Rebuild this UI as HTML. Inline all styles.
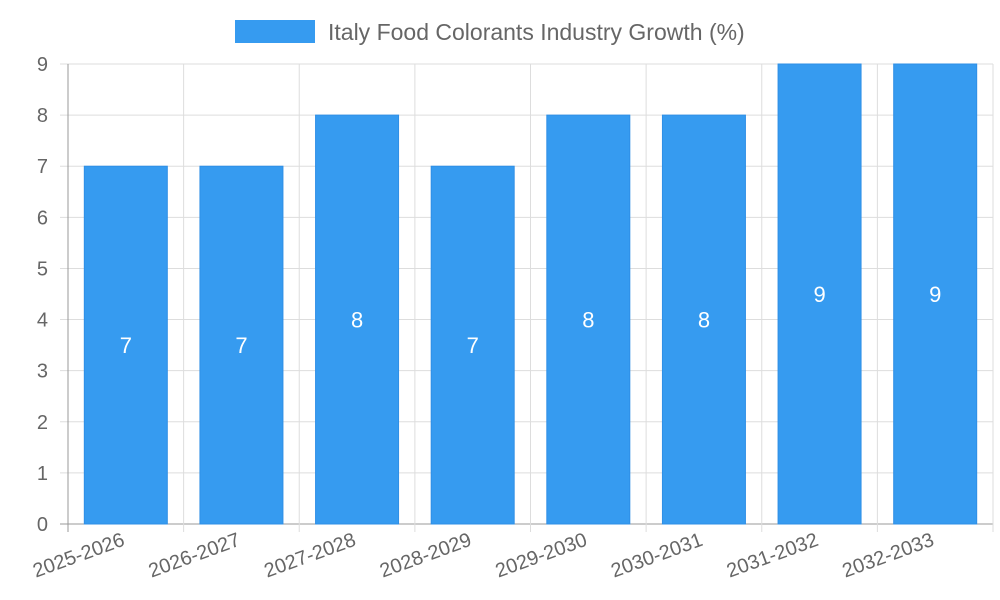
<!DOCTYPE html>
<html><head><meta charset="utf-8"><style>
html,body{margin:0;padding:0;background:#fff;}
svg{display:block;font-family:"Liberation Sans",sans-serif;}
</style></head><body>
<svg id="chart" width="1000" height="600">
<g>
<rect x="235" y="20" width="80" height="23" fill="#369BF0"></rect>
<text x="328" y="40" font-size="23" fill="#666">Italy Food Colorants Industry Growth (%)</text>
</g>
<g id="grid"></g><g id="bars"></g><g id="labels"></g>
</svg>
<script>
const categories=["2025-2026","2026-2027","2027-2028","2028-2029","2029-2030","2030-2031","2031-2032","2032-2033"];
const values=[7,7,8,7,8,8,9,9];
const yTicks=[0,1,2,3,4,5,6,7,8,9];
const NS="http://www.w3.org/2000/svg";
const L=68,R=993,T=64,B=524,yMax=9;
const y=v=>B-(v/yMax)*(B-T);
const bw=(R-L)/categories.length;
const x=i=>L+i*bw;
function mk(tag,attrs,parent){const e=document.createElementNS(NS,tag);for(const k in attrs)e.setAttribute(k,attrs[k]);parent.appendChild(e);return e;}
const g=document.getElementById('grid'),bg=document.getElementById('bars'),lg=document.getElementById('labels');
yTicks.forEach(t=>{
 const ln=mk('line',{x1:L-8,x2:R,y1:y(t),y2:y(t),stroke:t===0?'#999':'#ddd','stroke-width':1},g);
 
 
 const tx=mk('text',{x:L-20,y:y(t)+7,'text-anchor':'end','font-size':20,fill:'#666'},g);
 tx.textContent=t;
 
 
});
for(let i=0;i<=categories.length;i++){
 const ln=mk('line',{x1:x(i),x2:x(i),y1:T,y2:B+8,stroke:i===0?'#999':'#ddd','stroke-width':1},g);
 
 
}
categories.forEach((c,i)=>{
 const cx=x(i)+bw/2;
 const r=mk('rect',{x:cx-41.5,y:y(values[i]),width:83,height:B-y(values[i]),fill:'#369BF0',stroke:'#2f8fe6','stroke-width':1},bg);
 
 
 const vt=mk('text',{x:cx,y:(y(values[i])+B)/2+8,'text-anchor':'middle','font-size':22,fill:'#fff'},lg);
 vt.textContent=values[i];
 
 
 const xt=mk('text',{x:cx,y:545,'text-anchor':'end','font-size':20,fill:'#666',transform:`rotate(-20 ${cx} 545)`},lg);
 xt.textContent=c;
 
 
});
</script>
</body></html>
